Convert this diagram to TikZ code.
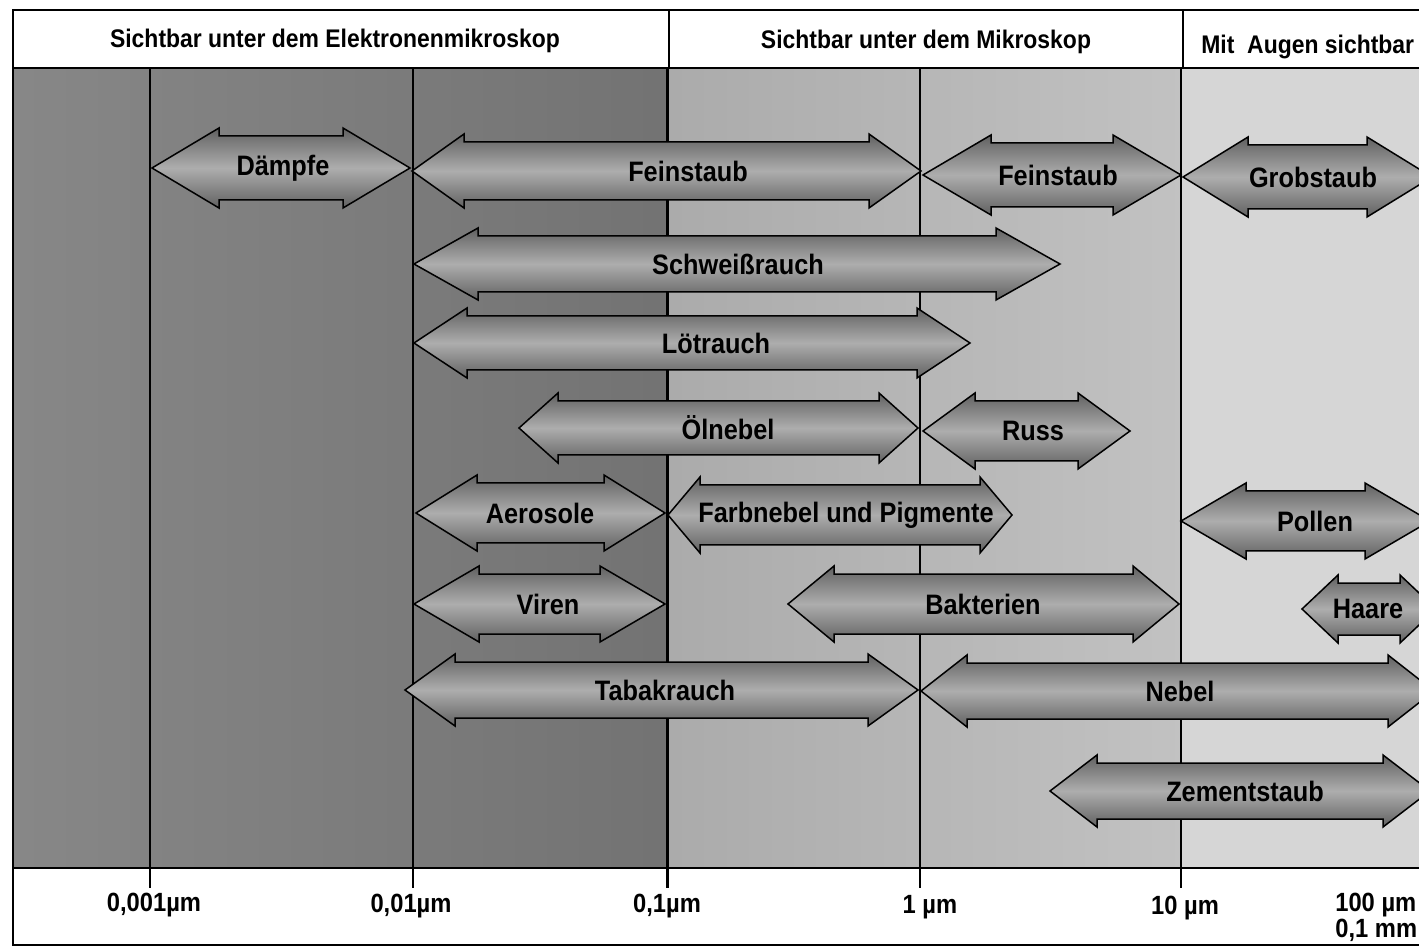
\documentclass[tikz,border=0pt]{standalone}
\usepackage{fontspec}
\setmainfont{Liberation Sans}[FakeStretch=0.9]
\usepackage{tikz}
\usetikzlibrary{positioning}
\tikzstyle{arr} = [draw=black, line width=0.3mm, top color=black!62, bottom color=black!62, middle color=black!32]
\tikzstyle{lbl} = [font=\bfseries\fontsize{16}{16}\selectfont, inner sep=0pt]
\tikzstyle{headlbl} = [font=\bfseries\fontsize{14.5}{14.5}\selectfont, inner sep=0pt]
\tikzstyle{ticklbl} = [font=\bfseries\fontsize{15}{15}\selectfont, inner sep=0pt]
\tikzstyle{vline} = [line width=0.25mm]

\begin{document}
\begin{tikzpicture}[x=0.2mm, y=-0.2mm]

  \useasboundingbox (0,0) rectangle (1419,950);
  \clip (0,0) rectangle (1419,950);
  \fill[white] (0,0) rectangle (1419,950);

  % zones
  \shade[left color=black!47, right color=black!55] (13,68) rectangle (667,868);
  \shade[left color=black!33, right color=black!24] (667,68) rectangle (1181,868);
  \fill[black!16] (1181,68) rectangle (1450,868);

  % % scale lines
  \foreach \x in {150,413,920,1181} {
    \draw[vline] (\x,68) -- (\x,888);
  }
  \draw[line width=0.6mm] (667,68) -- (667,888);

  % frame and header
  \draw[line width=0.5mm] (13,10) rectangle (1450,945);
  \draw[line width=0.4mm] (13,68) -- (1450,68);
  \draw[line width=0.4mm] (13,868) -- (1450,868);
  \draw[vline] (669,10) -- (669,68);
  \draw[vline] (1183,10) -- (1183,68);

  \node[headlbl] (elektro) at (335,41) {Sichtbar unter dem Elektronenmikroskop};
  \node[headlbl] (mikro) at (926,42) {Sichtbar unter dem Mikroskop};
  \node[headlbl, anchor=west] (augen) at (1201,47) {Mit\ \ Augen sichtbar};

  % arrows
  \foreach \xl/\xr/\y/\hl/\hh/\tx/\txt/\nm in {
      152/410/168/67/40/283/Dämpfe/daempfe,
      412/921/171/52/37/688/Feinstaub/feinA,
      923/1181/175/68/40/1058/Feinstaub/feinB,
      1183/1432/177/65/40/1313/Grobstaub/grob,
      414/1060/264/64/36/738/Schweißrauch/schweiss,
      414/970/343/53/35/716/Lötrauch/loet,
      519/918/428/39/35/728/Ölnebel/oel,
      923/1130/431/52/38/1033/Russ/russ,
      416/665/513/61/38/540/Aerosole/aero,
      668/1012/515/32/38/846/Farbnebel und Pigmente/farb,
      1181/1430/521/65/38/1315/Pollen/pollen,
      1302/1436/609/36/34/1368/Haare/haare,
      414/665/604/65/38/548/Viren/viren,
      788/1179/604/46/38/983/Bakterien/bakt,
      405/918/690/50/36/665/Tabakrauch/tabak,
      921/1434/691/46/36/1180/Nebel/nebel,
      1050/1430/791/47/36/1245/Zementstaub/zement} {
    \draw[arr] (\xl,\y) -- (\xl+\hl,\y-\hh) -- (\xl+\hl,\y-\hh+8) -- (\xr-\hl,\y-\hh+8)
      -- (\xr-\hl,\y-\hh) -- (\xr,\y) -- (\xr-\hl,\y+\hh) -- (\xr-\hl,\y+\hh-8)
      -- (\xl+\hl,\y+\hh-8) -- (\xl+\hl,\y+\hh) -- cycle;
    \node[lbl] (\nm) at (\tx,\y) {\txt};
  }

  % axis labels
  \node[ticklbl] (t001) at (154,905) {0,001µm};
  \node[ticklbl] (t01) at (411,906) {0,01µm};
  \node[ticklbl] (t1) at (667,906) {0,1µm};
  \node[ticklbl] (tum) at (930,907) {1 µm};
  \node[ticklbl] (tten) at (1185,908) {10 µm};
  \node[ticklbl, anchor=west] (thun) at (1335,905) {100 µm};
  \node[ticklbl, below=0.2mm of thun.south west, anchor=north west] (tmm) {0,1 mm};

\end{tikzpicture}
\end{document}
